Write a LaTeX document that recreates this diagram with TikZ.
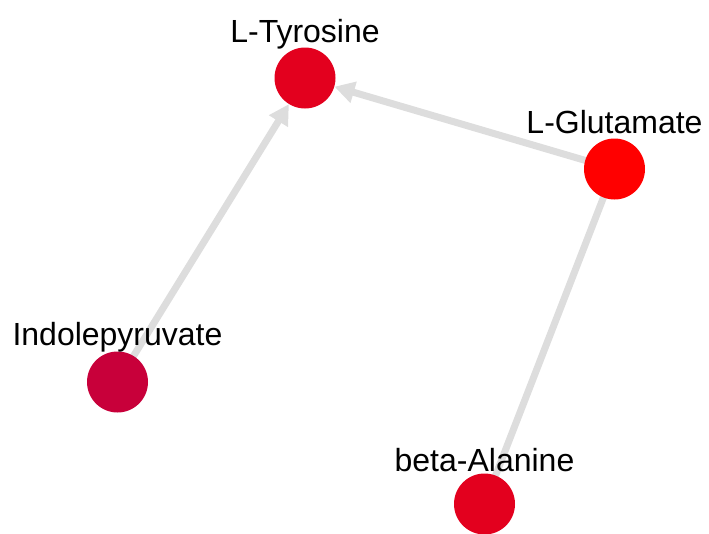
\documentclass[tikz,border=0pt]{standalone}
\usepackage{fontspec}
\setmainfont{Liberation Sans}
\usetikzlibrary{arrows.meta}
\definecolor{tyrred}{RGB}{227,0,30}
\definecolor{glured}{RGB}{255,0,0}
\definecolor{indred}{RGB}{200,0,58}
\definecolor{edgegray}{RGB}{221,221,221}
\begin{document}
\begin{tikzpicture}[x=1pt,y=-1pt,
  metab/.style={circle,minimum size=61pt,inner sep=0pt},
  lbl/.style={anchor=base,font=\fontsize{32}{36}\selectfont,text=black,inner sep=0pt},
  edge/.style={draw=edgegray,line width=7pt},
  arr/.style={edge,-{Triangle[length=20pt,width=21pt]}}]
\useasboundingbox (0,0) rectangle (709,533);
\node[metab] (tyr) at (305,78) {};
\node[metab] (glu) at (614.5,169) {};
\node[metab] (ind) at (117.5,382) {};
\node[metab] (bala) at (484.5,504) {};
\draw[arr] (ind.center) -- (tyr);
\draw[arr] (glu.center) -- (tyr);
\draw[edge] (bala.center) -- (glu.center);
\fill[tyrred] (tyr) circle (30.5);
\fill[glured] (glu) circle (30.5);
\fill[indred] (ind) circle (30.5);
\fill[tyrred] (bala) circle (30.5);
\node[lbl] (tyrl) at (305,42) {L-Tyrosine};
\node[lbl] (glul) at (614.5,133) {L-Glutamate};
\node[lbl] (indl) at (117.5,345) {Indolepyruvate};
\node[lbl] (balal) at (484.5,471) {beta-Alanine};
\end{tikzpicture}
\end{document}
